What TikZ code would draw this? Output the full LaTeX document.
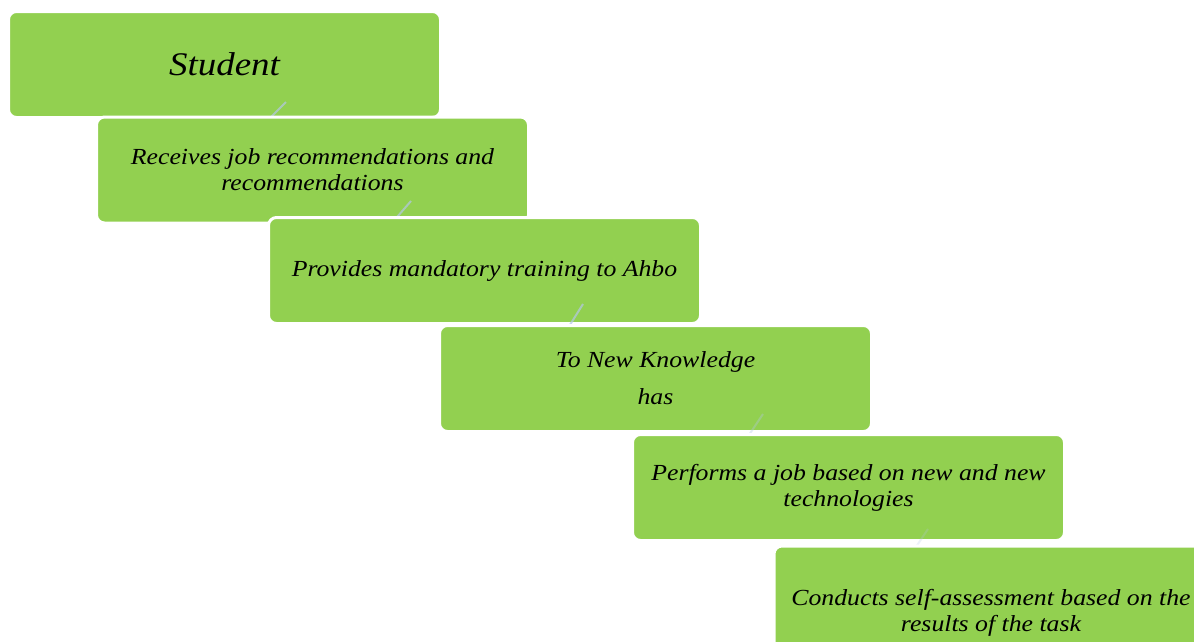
\documentclass[tikz,border=0pt]{standalone}
\usepackage{fontspec}
\setmainfont{Liberation Serif}[FakeStretch=1.12]
\usetikzlibrary{calc}
\definecolor{boxgreen}{HTML}{92D050}
\definecolor{connblue}{HTML}{B4C7E7}
\begin{document}
\begin{tikzpicture}[x=1pt,y=-1pt,
  stepbox/.style={rectangle, rounded corners=8pt, fill=boxgreen, draw=white,
    line width=3pt, minimum width=432pt, minimum height=106pt, inner sep=0pt,
    font=\fontsize{23}{26}\selectfont\itshape, align=center, text=black},
  conn/.style={draw=connblue, line width=2pt, opacity=0.7}]
\useasboundingbox (0,0) rectangle (1194,641);
\clip (0,0) rectangle (1194,641);
\node[stepbox, font=\fontsize{33}{38}\selectfont\itshape] (b1) at (224.5,64.5) {Student};
\coordinate (c1a) at (286,102);
\coordinate (c1b) at (264,124);
\draw[conn] (c1a) -- (c1b);
\node[stepbox] (b2) at (312.5,170) {Receives job recommendations and\\recommendations};
\coordinate (c2a) at (411,201);
\coordinate (c2b) at (391,224);
\draw[conn] (c2a) -- (c2b);
\node[stepbox] (b3) at (484.5,270.5) {Provides mandatory training to Ahbo};
\coordinate (c3a) at (583,304);
\coordinate (c3b) at (568,328);
\draw[conn] (c3a) -- (c3b);
\node[stepbox] (b4) at (655.5,378.5) {To New Knowledge\\[11pt]has};
\coordinate (c4a) at (763,414);
\coordinate (c4b) at (749,435);
\draw[conn, opacity=0.35] (c4a) -- (c4b);
\node[stepbox] (b5) at (848.5,487.5) {Performs a job based on new and new\\technologies};
\coordinate (c5a) at (928,529);
\coordinate (c5b) at (914,550);
\draw[conn, opacity=0.25] (c5a) -- (c5b);
\node[stepbox, minimum height=134pt, minimum width=434pt] (b6) at (991,613) {Conducts self-assessment based on the\\results of the task};
\end{tikzpicture}
\end{document}
